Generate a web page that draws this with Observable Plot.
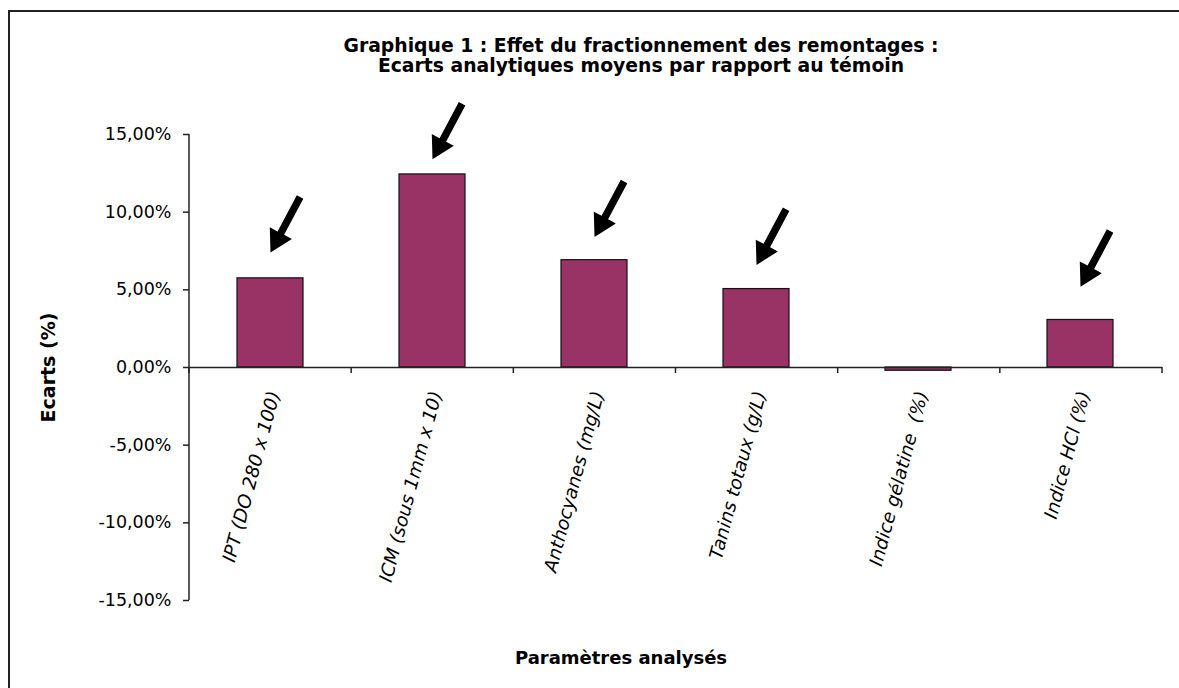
<!DOCTYPE html>
<html>
<head>
<meta charset="utf-8">
<script src="https://cdn.jsdelivr.net/npm/d3@7"></script>
<script src="https://cdn.jsdelivr.net/npm/@observablehq/plot@0.6"></script>
<style>
  html, body { margin: 0; padding: 0; background: #fff; }
  #wrap { position: relative; width: 1179px; height: 688px; overflow: hidden; font-family: "DejaVu Sans", sans-serif; }
  #border { position: absolute; left: 8px; top: 10px; width: 1300px; height: 800px; border-left: 2px solid #222; border-top: 2px solid #222; }
  #title { position: absolute; left: 641px; top: 36px; transform: translateX(-50%); white-space: nowrap;
           text-align: center; font-weight: bold; font-size: 18.8px; line-height: 20px; color: #000; }
  #chart { position: absolute; left: 0; top: 0; }
</style>
</head>
<body>
<div id="wrap">
  <div id="border"></div>
  <div id="chart"></div>
  <div id="title">Graphique 1 : Effet du fractionnement des remontages :<br>Ecarts analytiques moyens par rapport au témoin</div>
</div>
<script>
// ---- data ----
const categories = ["IPT (DO 280 x 100)", "ICM (sous 1mm x 10)", "Anthocyanes (mg/L)", "Tanins totaux (g/L)", "Indice gélatine  (%)", "Indice HCl (%)"];
const ecarts = [5.74, 12.43, 6.91, 5.05, -0.21, 3.06];          // % écart vs témoin
const arrowCats = ["IPT (DO 280 x 100)", "ICM (sous 1mm x 10)", "Anthocyanes (mg/L)", "Tanins totaux (g/L)", "Indice HCl (%)"];
const arrowTips = [7.4, 13.4, 8.4, 6.6, 5.2];                     // arrow tip level, in %
const yTicks = [-15, -10, -5, 0, 5, 10, 15];
const yLabel = "Ecarts (%)";
const xLabel = "Paramètres analysés";

const bars = categories.map((c, i) => ({cat: c, value: ecarts[i]}));
const arrows = arrowCats.map((c, i) => ({cat: c, tip: arrowTips[i]}));

const AXIS = "#222";
const fmt = v => v.toFixed(2).replace(".", ",") + "%";

// solid arrow shape for Plot.vector (drawn pointing up, tip at -l)
const solidArrow = {
  draw(context, l) {
    const h = 22, w = 12.5, s = 3.7;
    context.moveTo(-s, 0);
    context.lineTo(s, 0);
    context.lineTo(s, -l + h);
    context.lineTo(w, -l + h);
    context.lineTo(0, -l);
    context.lineTo(-w, -l + h);
    context.lineTo(-s, -l + h);
    context.closePath();
  }
};

// y-axis line + category boundary ticks on the zero line
function axisDecor(index, scales, values, dims) {
  const {width, height, marginLeft, marginRight, marginTop, marginBottom} = dims;
  const y0 = scales.y(0);
  const g = d3.create("svg:g").attr("stroke", AXIS).attr("stroke-width", 1.5);
  g.append("line").attr("x1", marginLeft).attr("x2", marginLeft)
    .attr("y1", marginTop).attr("y2", height - marginBottom);
  const n = categories.length;
  const step = (width - marginLeft - marginRight) / n;
  for (let i = 0; i <= n; i++) {
    const x = marginLeft + i * step;
    g.append("line").attr("x1", x).attr("x2", x).attr("y1", y0).attr("y2", y0 + 6);
  }
  return g.node();
}

const chart = Plot.plot({
  width: 1179,
  height: 688,
  marginTop: 134,
  marginBottom: 88,
  marginLeft: 189,
  marginRight: 17,
  style: {fontFamily: "DejaVu Sans, sans-serif", fontSize: "17px", color: "#000", background: "transparent"},
  x: {type: "band", domain: categories, paddingInner: 0.59, paddingOuter: 0.295, axis: null},
  y: {domain: [-15, 15], axis: null},
  marks: [
    Plot.axisY({ticks: yTicks, tickFormat: fmt, tickSize: 6, tickPadding: 12, fontSize: 17.5, stroke: AXIS, strokeWidth: 1.5, label: null}),
    Plot.barY(bars, {x: "cat", y: "value", fill: "#993366", stroke: "#111", strokeWidth: 1.2}),
    Plot.ruleY([0], {stroke: AXIS, strokeWidth: 1.5}),
    axisDecor,
    Plot.text(categories, {x: d => d, y: () => 0, text: d => d, rotate: -75, textAnchor: "end", lineAnchor: "middle",
      dx: 4, dy: 24, fontStyle: "italic", fontSize: 18.5, fill: "#000"}),
    Plot.vector(arrows, {x: "cat", y: "tip", length: 63, rotate: 208, anchor: "end", shape: solidArrow, fill: "#000", stroke: "none"}),
    Plot.text([yLabel], {frameAnchor: "left", textAnchor: "middle", lineAnchor: "middle", rotate: -90, dx: -141, fontWeight: "bold", fontSize: 19, fill: "#000"}),
    Plot.text([xLabel], {frameAnchor: "bottom", textAnchor: "middle", lineAnchor: "middle", dx: -55, dy: 58, fontWeight: "bold", fontSize: 18, fill: "#000"})
  ]
});
document.getElementById("chart").appendChild(chart);
</script>
</body>
</html>
